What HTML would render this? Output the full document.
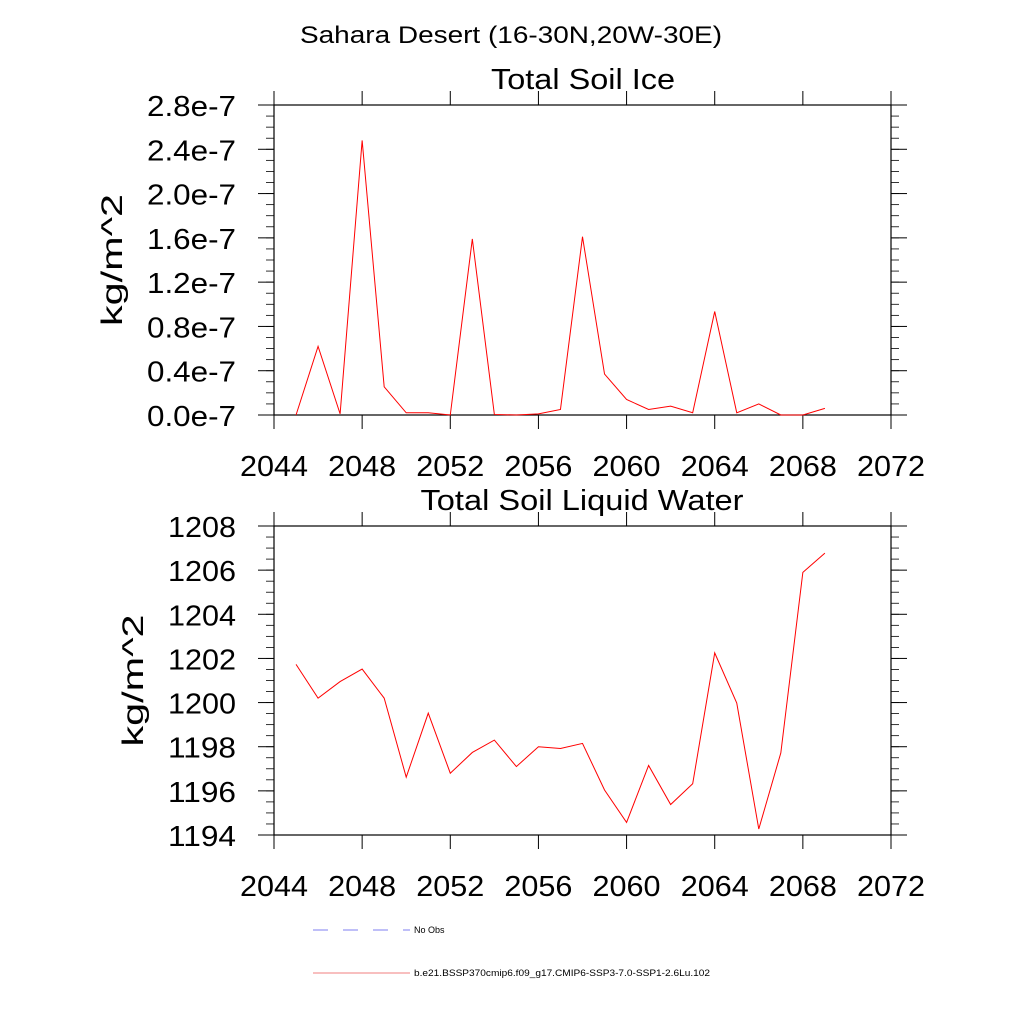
<!DOCTYPE html>
<html><head><meta charset="utf-8"><style>body{margin:0;background:#fff}svg{display:block;font-family:"Liberation Sans",sans-serif}</style></head>
<body>
<svg id="c" width="1024" height="1024"></svg>
<script>
const years=[2045,2046,2047,2048,2049,2050,2051,2052,2053,2054,2055,2056,2057,2058,2059,2060,2061,2062,2063,2064,2065,2066,2067,2068,2069];
const iceValues=[0,0.62,0.01,2.48,0.255,0.02,0.02,0,1.59,0.005,0,0.01,0.05,1.61,0.37,0.14,0.05,0.08,0.02,0.935,0.02,0.1,0,0,0.06];
const waterValues=[1201.73,1200.2,1200.95,1201.52,1200.2,1196.62,1199.52,1196.8,1197.74,1198.3,1197.1,1198.0,1197.92,1198.15,1196.04,1194.57,1197.15,1195.38,1196.32,1202.25,1199.98,1194.27,1197.72,1205.9,1206.77];
const xTicks=[2044,2048,2052,2056,2060,2064,2068,2072];
const iceTicks=[0,0.4,0.8,1.2,1.6,2.0,2.4,2.8];
const iceTickLabels=["0.0e-7","0.4e-7","0.8e-7","1.2e-7","1.6e-7","2.0e-7","2.4e-7","2.8e-7"];
const waterTicks=[1194,1196,1198,1200,1202,1204,1206,1208];
const NS="http://www.w3.org/2000/svg";
const svg=document.getElementById('c');
function mk(t,a,p){const e=document.createElementNS(NS,t);for(const k in a)e.setAttribute(k,a[k]);(p||svg).appendChild(e);return e;}
function txt(s,a,name){a.lengthAdjust='spacingAndGlyphs';const e=mk('text',a);e.textContent=s;

return e;}
txt("Sahara Desert (16-30N,20W-30E)",{x:511,y:43,'font-size':24,'text-anchor':'middle',textLength:422},'main-title');
function panel(o){
 const L=274,R=891,T=o.top,B=o.bot;
 const sx=v=>L+(v-2044)/28*(R-L);
 const sy=v=>B-(v-o.ymin)/(o.ymax-o.ymin)*(B-T);
 const g=mk('g',{});
 
 
 const fr=mk('rect',{x:L,y:T,width:R-L,height:B-T,fill:'none',stroke:'#000','stroke-width':1.2},g);
 
 
 xTicks.forEach(v=>{const x=sx(v);
  mk('line',{x1:x,x2:x,y1:T,y2:T-14,stroke:'#000'},g);
  mk('line',{x1:x,x2:x,y1:B,y2:B+14,stroke:'#000'},g);
  txt(String(v),{x:x,y:B+61,'font-size':29,'text-anchor':'middle',textLength:68},'x-tick-label');});
 for(let v=o.ymin;v<=o.ymax+1e-9;v+=o.minor){const y=sy(v);
  mk('line',{x1:L,x2:L-8,y1:y,y2:y,stroke:'#000','stroke-width':0.8},g);
  mk('line',{x1:R,x2:R+8,y1:y,y2:y,stroke:'#000','stroke-width':0.8},g);}
 o.ticks.forEach((v,i)=>{const y=sy(v);
  mk('line',{x1:L,x2:L-16,y1:y,y2:y,stroke:'#000'},g);
  mk('line',{x1:R,x2:R+16,y1:y,y2:y,stroke:'#000'},g);
  txt(o.labels[i],{x:236,y:y+11,'font-size':29,'text-anchor':'end',textLength:o.lw},'y-tick-label');});
 txt(o.title,{x:o.tx,y:T-16,'font-size':29,'text-anchor':'middle',textLength:o.tw},'panel-title');
 txt("kg/m^2",{x:0,y:0,'font-size':30,'text-anchor':'middle',textLength:132,transform:`translate(${o.lx},${(T+B)/2}) rotate(-90)`},'y-axis-title');
 const pts=years.map((yr,i)=>sx(yr)+','+sy(o.vals[i])).join(' ');
 const pl=mk('polyline',{points:pts,fill:'none',stroke:'#ff0000','stroke-width':1},g);
 
 
}
panel({name:'ice-panel',top:105,bot:415,ymin:0,ymax:2.8,minor:0.1,ticks:iceTicks,labels:iceTickLabels,lw:89,vals:iceValues,title:"Total Soil Ice",tw:184,tx:583,lx:122});
panel({name:'water-panel',top:526,bot:835,ymin:1194,ymax:1208,minor:0.5,ticks:waterTicks,labels:waterTicks.map(String),lw:68,vals:waterValues,title:"Total Soil Liquid Water",tw:323,tx:582,lx:143});
const l1=mk('line',{x1:313,x2:410,y1:930,y2:930,stroke:'#5555ee','stroke-width':0.8,'stroke-dasharray':'15,15'});


txt("No Obs",{x:414,y:933,'font-size':9},'legend-no-obs-label');
const l2=mk('line',{x1:313,x2:410,y1:973,y2:973,stroke:'#ee5555','stroke-width':0.8});


txt("b.e21.BSSP370cmip6.f09_g17.CMIP6-SSP3-7.0-SSP1-2.6Lu.102",{x:414,y:976,'font-size':9,textLength:296},'legend-model-label');
</script>
</body></html>
